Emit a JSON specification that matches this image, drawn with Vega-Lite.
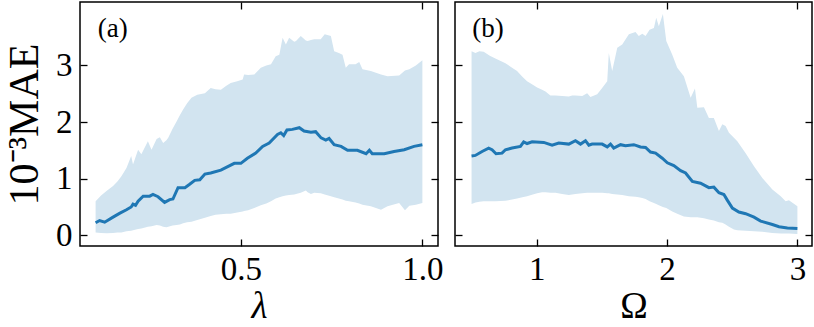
{
 "$schema": "https://vega.github.io/schema/vega-lite/v6.json",
 "background": "white",
 "padding": {"left": 2, "top": 0, "right": 2, "bottom": 0},
 "config": {
  "view": {"stroke": "black", "strokeWidth": 1.5},
  "font": "Liberation Serif",
  "axis": {"grid": false, "domain": false, "tickSize": -7, "tickWidth": 1.3, "tickColor": "black",
   "labelFont": "Liberation Serif", "labelFontSize": 33, "labelColor": "black", "labelPadding": 14,
   "titleFont": "Liberation Serif", "titleFontWeight": "normal", "titleFontSize": 37, "titleColor": "black"}
 },
 "datasets": {
  "bandA": [
   {"x":0.100,"lo":0.05,"hi":0.60},{"x":0.115,"lo":0.04,"hi":0.70},{"x":0.130,"lo":0.035,"hi":0.78},{"x":0.148,"lo":0.04,"hi":0.87},
   {"x":0.160,"lo":0.05,"hi":0.95},{"x":0.171,"lo":0.05,"hi":1.04},{"x":0.185,"lo":0.07,"hi":1.19},{"x":0.198,"lo":0.08,"hi":1.40},
   {"x":0.203,"lo":0.09,"hi":1.25},{"x":0.217,"lo":0.11,"hi":1.51},{"x":0.226,"lo":0.12,"hi":1.43},{"x":0.244,"lo":0.15,"hi":1.66},
   {"x":0.254,"lo":0.16,"hi":1.51},{"x":0.268,"lo":0.18,"hi":1.70},{"x":0.277,"lo":0.17,"hi":1.73},{"x":0.286,"lo":0.15,"hi":1.63},
   {"x":0.295,"lo":0.14,"hi":1.68},{"x":0.300,"lo":0.15,"hi":1.72},{"x":0.312,"lo":0.17,"hi":1.88},{"x":0.323,"lo":0.18,"hi":2.01},
   {"x":0.332,"lo":0.19,"hi":2.12},{"x":0.341,"lo":0.21,"hi":2.22},{"x":0.352,"lo":0.23,"hi":2.33},{"x":0.364,"lo":0.24,"hi":2.43},
   {"x":0.380,"lo":0.27,"hi":2.48},{"x":0.401,"lo":0.31,"hi":2.51},{"x":0.417,"lo":0.34,"hi":2.60},{"x":0.430,"lo":0.36,"hi":2.58},
   {"x":0.445,"lo":0.37,"hi":2.57},{"x":0.460,"lo":0.38,"hi":2.64},{"x":0.472,"lo":0.38,"hi":2.69},{"x":0.490,"lo":0.40,"hi":2.72},
   {"x":0.505,"lo":0.42,"hi":2.75},{"x":0.509,"lo":0.43,"hi":2.84},{"x":0.520,"lo":0.44,"hi":2.83},{"x":0.537,"lo":0.48,"hi":2.84},
   {"x":0.555,"lo":0.53,"hi":2.96},{"x":0.570,"lo":0.56,"hi":3.00},{"x":0.583,"lo":0.60,"hi":3.02},{"x":0.596,"lo":0.65,"hi":3.16},
   {"x":0.606,"lo":0.67,"hi":3.19},{"x":0.615,"lo":0.69,"hi":3.49},{"x":0.624,"lo":0.70,"hi":3.37},{"x":0.633,"lo":0.71,"hi":3.49},
   {"x":0.647,"lo":0.72,"hi":3.42},{"x":0.652,"lo":0.73,"hi":3.43},{"x":0.665,"lo":0.75,"hi":3.52},{"x":0.679,"lo":0.79,"hi":3.44},
   {"x":0.684,"lo":0.76,"hi":3.43},{"x":0.693,"lo":0.73,"hi":3.45},{"x":0.702,"lo":0.75,"hi":3.46},{"x":0.720,"lo":0.74,"hi":3.46},
   {"x":0.731,"lo":0.72,"hi":3.55},{"x":0.748,"lo":0.69,"hi":3.52},{"x":0.757,"lo":0.67,"hi":3.25},{"x":0.770,"lo":0.65,"hi":3.22},
   {"x":0.780,"lo":0.63,"hi":3.19},{"x":0.789,"lo":0.61,"hi":2.96},{"x":0.798,"lo":0.60,"hi":3.02},{"x":0.816,"lo":0.58,"hi":3.02},
   {"x":0.826,"lo":0.56,"hi":3.06},{"x":0.835,"lo":0.54,"hi":2.93},{"x":0.858,"lo":0.51,"hi":2.90},{"x":0.886,"lo":0.45,"hi":2.84},
   {"x":0.904,"lo":0.51,"hi":2.81},{"x":0.936,"lo":0.57,"hi":2.82},{"x":0.952,"lo":0.44,"hi":2.91},{"x":0.964,"lo":0.52,"hi":2.93},
   {"x":0.982,"lo":0.54,"hi":3.00},{"x":1.000,"lo":0.57,"hi":3.09}
  ],
  "lineA": [
   {"x":0.100,"y":0.22},{"x":0.111,"y":0.26},{"x":0.125,"y":0.23},{"x":0.148,"y":0.32},{"x":0.167,"y":0.39},{"x":0.185,"y":0.45},
   {"x":0.198,"y":0.50},{"x":0.203,"y":0.55},{"x":0.210,"y":0.53},{"x":0.217,"y":0.60},{"x":0.231,"y":0.69},{"x":0.249,"y":0.69},
   {"x":0.258,"y":0.72},{"x":0.272,"y":0.68},{"x":0.290,"y":0.58},{"x":0.304,"y":0.63},{"x":0.313,"y":0.64},{"x":0.327,"y":0.84},
   {"x":0.346,"y":0.84},{"x":0.359,"y":0.90},{"x":0.373,"y":0.97},{"x":0.387,"y":0.98},{"x":0.401,"y":1.08},{"x":0.417,"y":1.10},
   {"x":0.445,"y":1.15},{"x":0.482,"y":1.27},{"x":0.500,"y":1.27},{"x":0.518,"y":1.36},{"x":0.541,"y":1.45},{"x":0.560,"y":1.57},
   {"x":0.578,"y":1.63},{"x":0.601,"y":1.78},{"x":0.610,"y":1.81},{"x":0.618,"y":1.76},{"x":0.627,"y":1.86},{"x":0.642,"y":1.87},
   {"x":0.661,"y":1.90},{"x":0.674,"y":1.84},{"x":0.693,"y":1.82},{"x":0.706,"y":1.83},{"x":0.721,"y":1.72},{"x":0.734,"y":1.68},
   {"x":0.743,"y":1.71},{"x":0.757,"y":1.60},{"x":0.776,"y":1.57},{"x":0.794,"y":1.50},{"x":0.821,"y":1.50},{"x":0.845,"y":1.44},
   {"x":0.854,"y":1.50},{"x":0.862,"y":1.44},{"x":0.895,"y":1.44},{"x":0.922,"y":1.48},{"x":0.950,"y":1.51},{"x":0.977,"y":1.57},
   {"x":1.000,"y":1.60}
  ],
  "bandB": [
   {"x":0.500,"lo":0.55,"hi":3.25},{"x":0.530,"lo":0.58,"hi":3.22},{"x":0.560,"lo":0.59,"hi":3.25},{"x":0.593,"lo":0.60,"hi":3.24},
   {"x":0.640,"lo":0.60,"hi":3.17},{"x":0.683,"lo":0.60,"hi":3.12},{"x":0.760,"lo":0.61,"hi":3.04},{"x":0.811,"lo":0.63,"hi":2.96},
   {"x":0.849,"lo":0.65,"hi":2.90},{"x":0.890,"lo":0.67,"hi":2.80},{"x":0.926,"lo":0.69,"hi":2.72},{"x":0.970,"lo":0.72,"hi":2.66},
   {"x":1.003,"lo":0.74,"hi":2.61},{"x":1.041,"lo":0.76,"hi":2.57},{"x":1.067,"lo":0.76,"hi":2.54},{"x":1.105,"lo":0.75,"hi":2.47},
   {"x":1.144,"lo":0.75,"hi":2.47},{"x":1.195,"lo":0.73,"hi":2.46},{"x":1.246,"lo":0.71,"hi":2.45},{"x":1.272,"lo":0.72,"hi":2.47},
   {"x":1.297,"lo":0.73,"hi":2.47},{"x":1.349,"lo":0.74,"hi":2.46},{"x":1.387,"lo":0.75,"hi":2.51},{"x":1.412,"lo":0.75,"hi":2.44},
   {"x":1.464,"lo":0.75,"hi":2.49},{"x":1.502,"lo":0.75,"hi":2.60},{"x":1.541,"lo":0.74,"hi":2.72},{"x":1.553,"lo":0.74,"hi":3.22},
   {"x":1.579,"lo":0.73,"hi":2.90},{"x":1.618,"lo":0.72,"hi":3.31},{"x":1.656,"lo":0.71,"hi":3.37},{"x":1.707,"lo":0.69,"hi":3.55},
   {"x":1.758,"lo":0.68,"hi":3.59},{"x":1.783,"lo":0.67,"hi":3.52},{"x":1.810,"lo":0.66,"hi":3.56},{"x":1.835,"lo":0.64,"hi":3.52},
   {"x":1.866,"lo":0.60,"hi":3.63},{"x":1.899,"lo":0.57,"hi":3.66},{"x":1.917,"lo":0.55,"hi":3.84},{"x":1.937,"lo":0.53,"hi":3.69},
   {"x":1.968,"lo":0.50,"hi":3.91},{"x":1.994,"lo":0.48,"hi":3.43},{"x":2.040,"lo":0.42,"hi":3.19},{"x":2.078,"lo":0.38,"hi":2.96},
   {"x":2.129,"lo":0.33,"hi":2.81},{"x":2.181,"lo":0.32,"hi":2.43},{"x":2.214,"lo":0.32,"hi":2.59},{"x":2.232,"lo":0.32,"hi":2.25},
   {"x":2.283,"lo":0.30,"hi":2.26},{"x":2.321,"lo":0.28,"hi":2.07},{"x":2.359,"lo":0.26,"hi":2.07},{"x":2.398,"lo":0.23,"hi":1.84},
   {"x":2.424,"lo":0.22,"hi":1.96},{"x":2.449,"lo":0.19,"hi":1.93},{"x":2.475,"lo":0.15,"hi":1.81},{"x":2.513,"lo":0.10,"hi":1.72},
   {"x":2.539,"lo":0.09,"hi":1.66},{"x":2.603,"lo":0.08,"hi":1.45},{"x":2.667,"lo":0.07,"hi":1.22},{"x":2.731,"lo":0.06,"hi":1.01},
   {"x":2.808,"lo":0.04,"hi":0.81},{"x":2.872,"lo":0.03,"hi":0.69},{"x":2.910,"lo":0.03,"hi":0.60},{"x":2.935,"lo":0.03,"hi":0.62},
   {"x":3.000,"lo":0.02,"hi":0.51}
  ],
  "lineB": [
   {"x":0.500,"y":1.40},{"x":0.529,"y":1.41},{"x":0.581,"y":1.48},{"x":0.631,"y":1.54},{"x":0.657,"y":1.51},{"x":0.688,"y":1.44},
   {"x":0.734,"y":1.45},{"x":0.760,"y":1.51},{"x":0.811,"y":1.54},{"x":0.875,"y":1.57},{"x":0.900,"y":1.65},{"x":0.926,"y":1.62},
   {"x":0.965,"y":1.65},{"x":1.054,"y":1.64},{"x":1.118,"y":1.59},{"x":1.169,"y":1.63},{"x":1.246,"y":1.61},{"x":1.297,"y":1.67},
   {"x":1.336,"y":1.61},{"x":1.374,"y":1.67},{"x":1.400,"y":1.59},{"x":1.425,"y":1.61},{"x":1.502,"y":1.61},{"x":1.541,"y":1.56},
   {"x":1.566,"y":1.61},{"x":1.591,"y":1.54},{"x":1.643,"y":1.60},{"x":1.681,"y":1.58},{"x":1.745,"y":1.60},{"x":1.796,"y":1.56},
   {"x":1.835,"y":1.55},{"x":1.873,"y":1.47},{"x":1.912,"y":1.45},{"x":1.963,"y":1.36},{"x":2.002,"y":1.28},{"x":2.052,"y":1.23},
   {"x":2.104,"y":1.14},{"x":2.142,"y":1.10},{"x":2.194,"y":0.95},{"x":2.257,"y":0.92},{"x":2.321,"y":0.84},{"x":2.359,"y":0.85},
   {"x":2.398,"y":0.75},{"x":2.436,"y":0.72},{"x":2.462,"y":0.62},{"x":2.501,"y":0.48},{"x":2.551,"y":0.41},{"x":2.603,"y":0.38},
   {"x":2.667,"y":0.32},{"x":2.718,"y":0.25},{"x":2.808,"y":0.19},{"x":2.859,"y":0.15},{"x":2.923,"y":0.13},{"x":3.000,"y":0.12}
  ]
 },
 "spacing": 17,
 "bounds": "flush",
 "hconcat": [
  {
   "width": 358, "height": 244,
   "layer": [
    {"data": {"name": "bandA"}, "mark": {"type": "area", "color": "#d2e4f0"},
     "encoding": {
      "x": {"field": "x", "type": "quantitative", "scale": {"domain": [0.057, 1.043], "nice": false, "zero": false},
            "axis": {"values": [0.5, 1.0], "format": ".1f", "title": "λ", "titleFontStyle": "italic", "titleBaseline": "alphabetic", "titleY": 71}},
      "y": {"field": "lo", "type": "quantitative", "scale": {"domain": [-0.19, 4.12], "nice": false, "zero": false},
            "axis": {"values": [0, 1, 2, 3], "labelPadding": 15, "title": "10⁻³MAE", "titleFontSize": 42, "titleX": -56, "titleBaseline": "middle"}},
      "y2": {"field": "hi"}
     }},
    {"data": {"name": "lineA"}, "mark": {"type": "line", "color": "#1f77b4", "strokeWidth": 3},
     "encoding": {
      "x": {"field": "x", "type": "quantitative", "axis": null},
      "y": {"field": "y", "type": "quantitative", "axis": null}
     }},
    {"data": {"name": "lineA"}, "mark": {"type": "line", "opacity": 0},
     "encoding": {
      "x": {"field": "x", "type": "quantitative", "axis": {"orient": "top", "labels": false, "title": null, "values": [0.5, 1.0]}},
      "y": {"field": "y", "type": "quantitative", "axis": {"orient": "right", "labels": false, "title": null, "values": [0, 1, 2, 3]}}
     }},
    {"data": {"values": [{}]}, "mark": {"type": "text", "align": "left", "baseline": "alphabetic", "fontSize": 27, "font": "Liberation Serif", "color": "black"},
     "encoding": {
      "x": {"datum": 0.106, "type": "quantitative", "axis": null},
      "y": {"datum": 3.5, "type": "quantitative", "axis": null},
      "text": {"value": "(a)"}
     }}
   ],
   "resolve": {"axis": {"x": "independent", "y": "independent"}}
  },
  {
   "width": 357, "height": 244,
   "layer": [
    {"data": {"name": "bandB"}, "mark": {"type": "area", "color": "#d2e4f0"},
     "encoding": {
      "x": {"field": "x", "type": "quantitative", "scale": {"domain": [0.373, 3.112], "nice": false, "zero": false},
            "axis": {"values": [1, 2, 3], "format": "d", "title": "Ω", "titleBaseline": "alphabetic", "titleY": 71}},
      "y": {"field": "lo", "type": "quantitative", "scale": {"domain": [-0.19, 4.12], "nice": false, "zero": false},
            "axis": {"values": [0, 1, 2, 3], "labels": false, "title": null}},
      "y2": {"field": "hi"}
     }},
    {"data": {"name": "lineB"}, "mark": {"type": "line", "color": "#1f77b4", "strokeWidth": 3},
     "encoding": {
      "x": {"field": "x", "type": "quantitative", "axis": null},
      "y": {"field": "y", "type": "quantitative", "axis": null}
     }},
    {"data": {"name": "lineB"}, "mark": {"type": "line", "opacity": 0},
     "encoding": {
      "x": {"field": "x", "type": "quantitative", "axis": {"orient": "top", "labels": false, "title": null, "values": [1, 2, 3]}},
      "y": {"field": "y", "type": "quantitative", "axis": {"orient": "right", "labels": false, "title": null, "values": [0, 1, 2, 3]}}
     }},
    {"data": {"values": [{}]}, "mark": {"type": "text", "align": "left", "baseline": "alphabetic", "fontSize": 27, "font": "Liberation Serif", "color": "black"},
     "encoding": {
      "x": {"datum": 0.506, "type": "quantitative", "axis": null},
      "y": {"datum": 3.5, "type": "quantitative", "axis": null},
      "text": {"value": "(b)"}
     }}
   ],
   "resolve": {"axis": {"x": "independent", "y": "independent"}}
  }
 ]
}
